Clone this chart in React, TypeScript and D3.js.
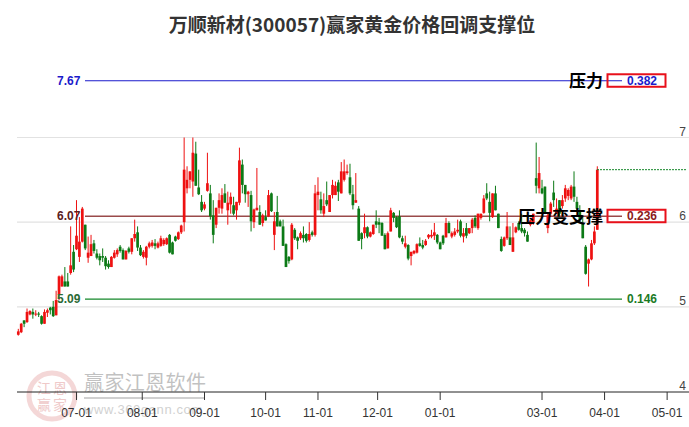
import React from "react";
import * as d3 from "d3";

const W = 689, H = 427;
const title = "万顺新材(300057)赢家黄金价格回调支撑位";

const highs = [4.74,4.81,4.84,4.98,4.96,4.98,4.96,4.94,4.90,4.97,4.98,5.00,5.07,5.19,5.37,5.38,5.47,5.40,5.95,5.73,
6.26,6.06,6.18,5.97,5.83,5.85,5.79,5.68,5.63,5.69,5.60,5.55,5.60,5.67,5.69,5.73,5.69,5.67,5.71,5.81,
6.03,5.95,5.73,5.67,5.72,5.77,5.79,5.80,5.77,5.84,5.81,5.82,5.86,5.77,5.84,5.89,5.97,7.00,6.66,6.60,
7.00,6.95,6.62,6.32,6.24,6.82,6.44,6.26,6.17,6.34,6.40,6.45,6.36,6.35,6.30,6.24,6.88,6.74,6.44,6.37,
6.37,6.16,6.64,6.20,6.10,6.14,6.38,6.35,6.12,6.31,6.03,6.03,5.75,5.60,5.99,5.93,5.83,5.89,5.95,5.87,
6.00,5.90,6.44,6.53,6.36,6.34,6.48,6.32,6.50,6.48,6.50,6.71,6.74,6.68,6.69,6.44,6.58,6.19,5.88,6.10,
5.95,5.89,5.97,6.14,6.05,6.00,5.87,5.89,6.17,6.12,6.07,6.14,5.84,5.84,5.74,5.65,5.67,5.75,5.82,5.79,
5.80,5.86,5.91,5.99,5.86,5.77,5.85,6.05,6.01,5.89,5.93,6.03,6.03,5.93,5.99,5.93,6.05,6.08,6.10,6.10,
6.32,6.46,6.36,6.34,6.43,6.10,5.83,5.83,6.12,5.95,5.99,5.95,6.01,6.10,5.93,5.89,6.03,6.10,6.94,6.77,
6.50,6.42,6.10,6.24,6.49,6.28,6.26,6.32,6.44,6.40,6.44,6.60,6.30,6.20,6.06,5.73,5.57,5.79,5.95,6.66];

const lows = [4.66,4.69,4.76,4.81,4.90,4.86,4.89,4.88,4.79,4.80,4.88,4.91,4.88,4.90,5.08,5.24,5.24,5.24,5.38,5.41,
5.67,5.53,5.76,5.67,5.52,5.60,5.63,5.56,5.49,5.53,5.44,5.45,5.47,5.57,5.59,5.64,5.56,5.56,5.63,5.62,
5.77,5.66,5.60,5.57,5.49,5.69,5.70,5.68,5.69,5.71,5.72,5.73,5.63,5.62,5.77,5.79,5.86,5.89,6.34,6.40,
6.30,6.43,6.32,6.12,6.14,6.36,6.03,5.75,5.93,6.10,6.10,6.23,5.97,6.10,6.08,6.03,6.20,6.34,6.23,6.18,
5.89,5.93,6.14,5.97,5.95,6.02,6.06,6.12,5.67,5.95,5.95,5.72,5.47,5.51,5.55,5.79,5.68,5.79,5.76,5.76,
5.77,5.83,5.83,6.14,6.10,6.06,6.19,6.12,6.28,6.32,6.25,6.34,6.48,6.56,6.32,6.15,6.23,5.78,5.68,5.81,
5.81,5.82,5.85,5.93,5.87,5.84,5.68,5.69,5.89,6.00,5.93,5.81,5.74,5.69,5.55,5.49,5.62,5.63,5.71,5.68,
5.72,5.80,5.81,5.79,5.74,5.68,5.73,5.82,5.87,5.81,5.83,5.87,5.82,5.76,5.81,5.86,5.87,5.93,5.91,6.03,
6.10,6.26,6.01,6.05,6.14,5.93,5.65,5.71,5.79,5.73,5.65,5.87,5.90,5.87,5.83,5.77,5.95,5.97,6.34,6.34,
6.33,6.10,5.87,6.06,6.18,6.10,6.06,6.16,6.24,6.26,6.26,6.24,6.14,5.99,5.81,5.38,5.24,5.55,5.73,5.91];

const opens = [4.67,4.70,4.84,4.82,4.91,4.94,4.91,4.92,4.89,4.80,4.93,4.99,5.00,4.90,5.14,5.24,5.30,5.30,5.40,5.65,
5.68,5.59,5.77,5.97,5.58,5.60,5.75,5.63,5.60,5.60,5.58,5.51,5.47,5.58,5.62,5.71,5.67,5.56,5.69,5.65,
5.81,5.88,5.70,5.59,5.58,5.71,5.72,5.75,5.70,5.72,5.74,5.74,5.85,5.76,5.83,5.80,5.88,6.00,6.40,6.50,
6.48,6.81,6.41,6.24,6.16,6.37,6.34,6.08,5.97,6.17,6.16,6.34,6.14,6.21,6.20,6.14,6.23,6.68,6.44,6.33,
6.32,6.00,6.14,6.12,5.99,6.06,6.07,6.34,5.85,6.12,6.01,5.95,5.74,5.59,5.56,5.91,5.82,5.81,5.85,5.86,
5.79,5.88,5.85,6.32,6.27,6.10,6.26,6.12,6.32,6.32,6.47,6.34,6.50,6.58,6.53,6.33,6.23,6.16,5.87,5.87,
5.94,5.83,5.86,6.01,6.00,5.99,5.85,5.69,5.89,6.11,6.06,6.07,5.81,5.71,5.73,5.60,5.63,5.64,5.75,5.73,
5.73,5.82,5.83,5.84,5.85,5.76,5.84,5.82,5.99,5.83,5.85,5.89,6.01,5.83,5.93,5.87,5.93,6.05,5.93,6.05,
6.11,6.34,6.24,6.06,6.34,6.10,5.80,5.72,5.81,5.82,5.65,5.88,5.99,5.93,5.91,5.85,5.97,5.99,6.52,6.40,
6.40,6.42,5.93,6.10,6.35,6.10,6.26,6.19,6.28,6.31,6.28,6.42,6.24,6.14,5.99,5.71,5.51,5.56,5.75,5.91];

const closes = [4.71,4.80,4.80,4.94,4.95,4.91,4.92,4.91,4.80,4.94,4.96,4.96,4.89,5.08,5.36,5.36,5.24,5.24,5.49,5.44,
5.84,5.77,6.16,5.69,5.64,5.74,5.66,5.58,5.55,5.58,5.48,5.47,5.59,5.64,5.67,5.66,5.56,5.66,5.65,5.81,
5.86,5.70,5.61,5.65,5.71,5.75,5.76,5.72,5.75,5.81,5.79,5.81,5.64,5.62,5.78,5.88,5.96,6.62,6.50,6.60,
6.82,6.43,6.33,6.14,6.21,6.46,6.07,5.85,6.17,6.26,6.32,6.23,6.23,6.30,6.10,6.24,6.73,6.44,6.33,6.36,
6.01,6.15,6.17,5.97,6.08,6.02,6.32,6.13,6.01,5.95,5.95,5.72,5.47,5.54,5.97,5.81,5.78,5.87,5.81,5.78,
5.86,5.85,6.34,6.36,6.14,6.19,6.21,6.32,6.44,6.43,6.36,6.60,6.60,6.60,6.34,6.20,6.26,5.78,5.80,5.94,
5.83,5.88,5.97,5.97,5.97,5.84,5.68,5.87,6.14,6.05,5.94,5.82,5.77,5.75,5.57,5.65,5.66,5.74,5.72,5.70,
5.78,5.85,5.85,5.88,5.76,5.68,5.75,5.99,5.87,5.87,5.89,5.91,5.84,5.87,5.84,5.93,6.03,5.95,6.10,6.10,
6.28,6.28,6.11,6.34,6.14,5.93,5.66,5.82,5.95,5.73,5.82,5.94,5.91,5.89,5.87,5.77,6.02,6.10,6.43,6.58,
6.34,6.10,6.08,6.22,6.26,6.16,6.10,6.26,6.40,6.38,6.42,6.30,6.16,6.03,5.81,5.39,5.56,5.75,5.89,6.62];

const priceTicks = [4, 5, 6, 7];
const dateLabels = ["07-01","08-01","09-01","10-01","11-01","12-01","01-01","03-01","04-01","05-01"];
const dateBars = [20,42.6,64,85,103,123.5,145,180,201.5,223];

const levelValues = [7.67, 6.07, 5.09];
const levelLabels = ["7.67", "6.07", "5.09"];
const levelRatios = ["0.382", "0.236", "0.146"];
const levelColors = ["#1a1acb", "#9a4a4a", "#15872a"];
const ratioColors = ["#1a1acb", "#8b1a1a", "#1a7a25"];
const leftColors = ["#1a1acb", "#5a2020", "#2a6a35"];
const levelNotes = ["压力", "压力变支撑", ""];
const lastClose = 6.62;

const y = d3.scaleLinear().domain([4, 7]).range([391.5, 137.5]);
const x = d3.scaleLinear().domain([0, 199]).range([18.3, 597.3]);
const sans = "'Liberation Sans', Arial, sans-serif";
const cjk = "'Noto Sans CJK SC', sans-serif";

export default function App() {
  return (
    <svg width={W} height={H} style={{ position: "absolute", left: 0, top: 0, background: "#fff" }}>
      <text x={352} y={31.5} textAnchor="middle" fontFamily={cjk} fontSize={19} fontWeight={700} fill="#333">{title}</text>

      {priceTicks.slice(1).map(t => (
        <line key={t} x1={17} x2={689} y1={y(t)} y2={y(t)} stroke="#e2e2e2" strokeWidth={1.2} />
      ))}
      {priceTicks.map(t => (
        <text key={t} x={686} y={y(t) - 2} textAnchor="end" fontFamily={sans} fontSize={12} fill="#444">{t}</text>
      ))}

      {/* watermark */}
      <g opacity={0.45}>
        <circle cx={52} cy={396} r={23} fill="none" stroke="#e8a8a8" strokeWidth={5} />
        {["江", "恩", "赢", "家"].map((c, i) => (
          <text key={c} x={i % 2 ? 60 : 44} y={i < 2 ? 393 : 410} textAnchor="middle" fontFamily={cjk} fontSize={14} fill="#dd8888">{c}</text>
        ))}
        <text x={84} y={390} fontFamily={cjk} fontSize={20} fill="#777" letterSpacing={0.4}>赢家江恩软件</text>
        <line x1={84} x2={205} y1={398} y2={398} stroke="#999" strokeWidth={2} />
        <text x={84} y={414} fontFamily={sans} fontSize={13} fill="#999" letterSpacing={0.6}>www.360gann.com</text>
      </g>

      {levelValues.map((v, i) => (
        <line key={v} x1={85} x2={622} y1={y(v)} y2={y(v)} stroke={levelColors[i]} strokeWidth={i === 1 ? 1.6 : 1.2} />
      ))}

      {closes.map((c, i) => {
        const o = opens[i];
        const col = c >= o ? "#ee1111" : "#0c7a16";
        const top = y(Math.max(o, c));
        const bot = y(Math.min(o, c));
        return (
          <g key={i}>
            <line x1={x(i)} x2={x(i)} y1={y(highs[i])} y2={y(lows[i])} stroke={col} strokeWidth={1} />
            <rect x={x(i) - 1.35} y={top} width={2.7} height={Math.max(bot - top, 1)} fill={col} />
          </g>
        );
      })}

      <line x1={597} x2={686} y1={y(lastClose)} y2={y(lastClose)} stroke="#15872a" strokeWidth={1} strokeDasharray="2,1" />

      {levelValues.map((v, i) => (
        <g key={v}>
          <text x={57} y={y(v) + 4} fontFamily={sans} fontSize={12} fontWeight={700} fill={leftColors[i]}>{levelLabels[i]}</text>
          {levelNotes[i] && (
            <rect x={607.5} y={y(v) - 6.5} width={58} height={12.5} fill="none" stroke="#e8101a" strokeWidth={2} />
          )}
          <text x={627} y={y(v) + 4} fontFamily={sans} fontSize={12} fontWeight={700} fill={ratioColors[i]}>{levelRatios[i]}</text>
          {levelNotes[i] && (
            <text x={603} y={y(v) + 6.5} textAnchor="end" fontFamily={cjk} fontSize={17} fontWeight={700} fill="#000">{levelNotes[i]}</text>
          )}
        </g>
      ))}

      <line x1={17} x2={689} y1={392} y2={392} stroke="#222" strokeWidth={1} />
      {dateLabels.map((d, i) => (
        <g key={d}>
          <line x1={x(dateBars[i])} x2={x(dateBars[i])} y1={392} y2={400} stroke="#333" strokeWidth={1} />
          <text x={x(dateBars[i])} y={417} textAnchor="middle" fontFamily={sans} fontSize={12} fill="#333">{d}</text>
        </g>
      ))}
    </svg>
  );
}
